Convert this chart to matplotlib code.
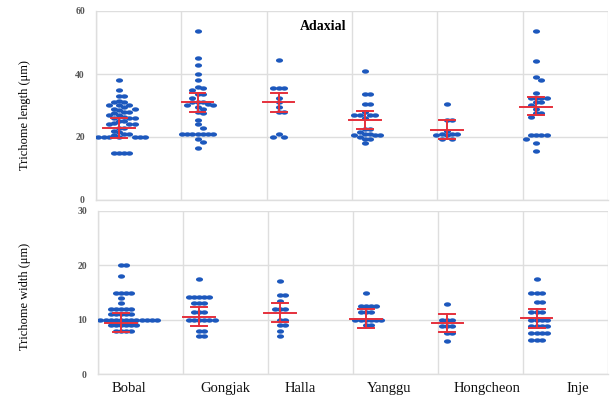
import numpy as np
import matplotlib
matplotlib.use("Agg")
import matplotlib.pyplot as plt
from matplotlib.path import Path

# ---------------- data ----------------
categories = ["Bobal", "Gongjak", "Halla", "Yanggu", "Hongcheon", "Inje"]

length_bobal = [38, 35, 33, 33, 31.5, 31, 31, 30, 30, 30, 29.5, 29, 29, 28.5, 28, 28,
                27.5, 27, 27, 26.5, 26, 26, 26, 25, 25, 24.5, 24, 24, 24, 23, 23, 22,
                21.5, 21, 21, 20.5, 20, 20, 20, 20, 20, 20, 20, 20, 15, 15, 15, 15]
length_gongjak = [53.5, 45, 43, 40, 38, 36, 35.5, 35, 33.5, 33.5, 32.5, 31, 31, 31, 30.5,
                  30, 30, 29.5, 29, 28, 27.5, 25.5, 24, 23, 21, 21, 21, 21, 21, 21, 21,
                  19.5, 18.5, 16.5]
length_halla = [44.5, 35.5, 35.5, 35.5, 32.5, 31, 29.5, 28, 28, 21, 20, 20]
length_yanggu = [41, 33.5, 33.5, 30.5, 30.5, 28, 27, 27, 27, 27, 26, 22.5, 22.5, 21.5,
                 21, 21, 20.5, 20.5, 20.5, 20, 19.5, 19.5, 18]
length_hongcheon = [30.5, 25.5, 25.5, 22, 21, 21, 21, 20.5, 20.5, 19.5, 19.5]
length_inje = [53.5, 44, 39, 38, 34, 32.5, 32.5, 32.5, 32.5, 31, 31, 30, 29, 27.5, 27.5,
               26.5, 20.5, 20.5, 20.5, 20.5, 19.5, 18, 15.5]
length_center = [23, 31, 31, 25.3, 22.2, 29.5]
length_low = [19.7, 28, 28, 22.5, 19.5, 27]
length_high = [26, 34, 34, 28.3, 25.5, 32.8]

width_bobal = [20, 20, 18, 15, 15, 15, 15, 14, 13, 12, 12, 12, 12, 12, 11, 11, 11, 11, 11,
               10, 10, 10, 10, 10, 10, 10, 10, 10, 10, 10, 10, 10, 10,
               9, 9, 9, 9, 9, 9, 8, 8, 8, 8]
width_gongjak = [17.5, 14.2, 14.2, 14.2, 14.2, 14.2, 13, 13, 13, 11.5, 11.5, 11.5,
                 10, 10, 10, 10, 10, 10, 8, 8, 7, 7]
width_halla = [17.2, 14.6, 14.6, 13.4, 12, 12, 12, 10, 10, 9, 9, 8, 7]
width_yanggu = [15, 12.5, 12.5, 12.5, 12.5, 11.5, 11.5, 11.5, 10, 10, 10, 10, 10, 10, 9, 9]
width_hongcheon = [12.9, 10, 10, 10, 8.8, 8.8, 8.8, 7.5, 7.5, 6.1]
width_inje = [17.5, 15, 15, 15, 13.3, 13.3, 11.5, 11.5, 11.5, 10, 10, 10, 10,
              8.8, 8.8, 8.8, 8.8, 7.6, 7.6, 7.6, 7.6, 6.3, 6.3, 6.3]
width_center = [9.4, 10.4, 11.3, 10.2, 9.4, 10.3]
width_low = [7.8, 8.8, 9.6, 8.5, 7.7, 8.5]
width_high = [11.3, 12.3, 13.0, 11.9, 11.1, 12.0]

length_groups = [length_bobal, length_gongjak, length_halla, length_yanggu,
                 length_hongcheon, length_inje]
width_groups = [width_bobal, width_gongjak, width_halla, width_yanggu,
                width_hongcheon, width_inje]

length_ticks = [0, 20, 40, 60]
width_ticks = [0, 10, 20, 30]

# ---------------- layout / style ----------------
W, H = 610, 398
PX_PER_CAT = 86.0
group_offset = [0.27, 0.19, 0.14, 0.15, 0.11, 0.16]      # group centre right of gridline
label_pos = [0.37, 1.50, 2.38, 3.42, 4.58, 5.64]          # where category names sit

DOT = "#1d58bd"
RED = "#e5303c"
GRID = "#dedede"
SERIF = ["Liberation Serif", "DejaVu Serif"]

t = np.linspace(0, 2 * np.pi, 40)
ellipse = Path(np.column_stack([np.cos(t), 0.62 * np.sin(t)]), closed=True)


def swarm(values, py_per_unit, dx_px=5.2, dy_px=3.4):
    order = np.argsort(values)[::-1]
    placed = []
    offs = np.zeros(len(values))
    for i in order:
        y = values[i] * py_per_unit
        k = 0
        while True:
            cand = [0.0] if k == 0 else [k * dx_px, -k * dx_px]
            ok_c = None
            for c in cand:
                ok = True
                for (px, py) in placed:
                    if abs(py - y) < dy_px and abs(px - c) < dx_px * 0.99:
                        ok = False
                        break
                if ok:
                    ok_c = c
                    break
            if ok_c is not None:
                offs[i] = ok_c
                placed.append((ok_c, y))
                break
            k += 1
    return offs / PX_PER_CAT


fig = plt.figure(figsize=(W / 100, H / 100), dpi=100)

ax1 = fig.add_axes([96 / W, 1 - 200 / H, (608 - 96) / W, (200 - 11) / H])
ax2 = fig.add_axes([98 / W, 1 - 374 / H, (608 - 98) / W, (374 - 211) / H])


def draw(ax, groups, center, low, high, ticks, ymax, left_px, bottom_px, top_px):
    ax.set_xlim(0, (608 - left_px) / PX_PER_CAT)
    ax.set_ylim(0, ymax)
    py_per_unit = (bottom_px - top_px) / ymax
    for gi, vals in enumerate(groups):
        vals = np.asarray(vals, float)
        xc = gi + group_offset[gi]
        xs = xc + swarm(vals, py_per_unit)
        ax.scatter(xs, vals, marker=ellipse, s=26, color=DOT, linewidths=0, zorder=3)
        # error bar
        cap = 8 / PX_PER_CAT
        mw = 16 / PX_PER_CAT
        ax.plot([xc, xc], [low[gi], high[gi]], color=RED, lw=1.4, zorder=4)
        ax.plot([xc - cap, xc + cap], [low[gi]] * 2, color=RED, lw=1.4, zorder=4)
        ax.plot([xc - cap, xc + cap], [high[gi]] * 2, color=RED, lw=1.4, zorder=4)
        ax.plot([xc - mw, xc + mw], [center[gi]] * 2, color=RED, lw=1.4, zorder=4)
    ax.set_yticks(ticks)
    ax.set_yticklabels([str(v) for v in ticks], family=SERIF, fontsize=7,
                       color="#555555", fontweight="bold")
    ax.set_xticks(np.arange(0, 7))
    ax.grid(True, color=GRID, lw=1.0, zorder=0)
    ax.tick_params(axis="y", length=0, pad=8)
    ax.tick_params(axis="x", length=0)
    for s in ["top", "right"]:
        ax.spines[s].set_visible(False)
    for s in ["left", "bottom"]:
        ax.spines[s].set_color(GRID)
        ax.spines[s].set_linewidth(1.0)
    ax.set_axisbelow(True)


draw(ax1, length_groups, length_center, length_low, length_high, length_ticks, 60,
     96, 200, 11)
ax1.set_xticklabels([])

draw(ax2, width_groups, width_center, width_low, width_high, width_ticks, 30,
     98, 374, 211)
ax2.set_xticklabels([])
for x, name in zip(label_pos, categories):
    ax2.text(x, -2.6, name, family=SERIF, fontsize=10.5, fontweight="normal",
             color="#111111", ha="center", va="center", clip_on=False)

fig.text(323 / W, 1 - 26 / H, "Adaxial", family=SERIF, fontsize=10,
         fontweight="bold", ha="center", va="center")
fig.text(25 / W, 1 - 115 / H, "Trichome length (\u03bcm)", family=SERIF, fontsize=9,
         rotation=90, ha="center", va="center")
fig.text(25 / W, 1 - 296 / H, "Trichome width (\u03bcm)", family=SERIF, fontsize=9,
         rotation=90, ha="center", va="center")

fig.savefig("out.png", dpi=100)
